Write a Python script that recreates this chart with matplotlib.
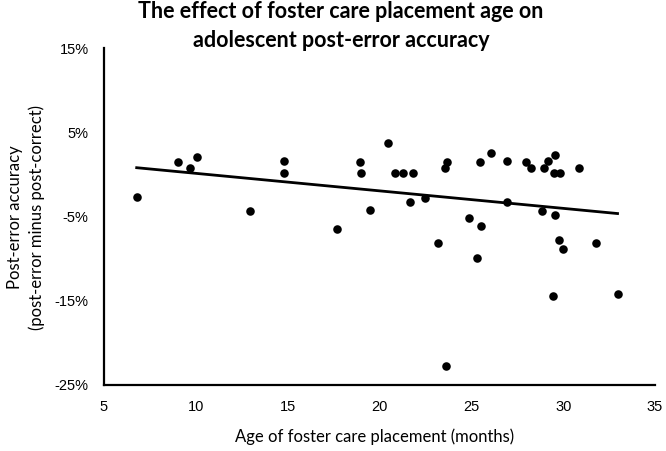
import numpy as np
import matplotlib
matplotlib.use("Agg")
import matplotlib.pyplot as plt
from matplotlib.ticker import FuncFormatter

# Data (age in months, post-error accuracy in %)
age_months = [6.78, 9.01, 9.68, 10.06, 12.93, 14.78, 14.78, 17.70, 18.95, 18.99,
              19.46, 20.44, 20.84, 21.28, 21.82, 21.64, 22.49, 23.16, 23.67, 23.55,
              24.85, 25.47, 25.54, 26.08, 26.92, 26.92, 27.99, 28.24, 28.86, 28.97,
              29.19, 29.53, 29.51, 29.84, 29.55, 30.87, 29.77, 29.97, 31.78, 25.33,
              29.46, 32.96, 23.60]
accuracy_pct = [-2.64, 1.44, 0.80, 2.10, -4.34, 1.60, 0.14, -6.47, 1.44, 0.14,
                -4.20, 3.70, 0.14, 0.14, 0.14, -3.27, -2.83, -8.17, 1.51, 0.80,
                -5.13, 1.44, -6.08, 2.50, 1.60, -3.27, 1.51, 0.80, -4.34, 0.80,
                1.63, 2.30, 0.14, 0.14, -4.85, 0.80, -7.78, -8.84, -8.17, -9.87,
                -14.42, -14.22, -22.72]

x_ticks = [5, 10, 15, 20, 25, 30, 35]
y_ticks = [-25, -15, -5, 5, 15]

title = "The effect of foster care placement age on\nadolescent post-error accuracy"
x_label = "Age of foster care placement (months)"
y_label = "Post-error accuracy\n(post-error minus post-correct)"

x = np.array(age_months)
y = np.array(accuracy_pct)

fig = plt.figure(figsize=(6.66, 4.51), dpi=100)
ax = fig.add_axes([104/666, 66/451, (655-104)/666, (385-48)/451])

ax.scatter(x, y, s=38, color="black", zorder=3, linewidths=0)

slope, intercept = np.polyfit(x, y, 1)
xl = np.array([x.min(), x.max()])
ax.plot(xl, slope*xl + intercept, color="black", lw=2.0, zorder=2)

ax.set_xlim(5, 35)
ax.set_ylim(-25, 15)
ax.set_xticks(x_ticks)
ax.set_yticks(y_ticks)
ax.yaxis.set_major_formatter(FuncFormatter(lambda v, p: f"{v:.0f}%"))

for s in ["top", "right"]:
    ax.spines[s].set_visible(False)
for s in ["left", "bottom"]:
    ax.spines[s].set_linewidth(1.6)
ax.tick_params(length=0, pad=11, labelsize=10.5)
for lab in ax.get_xticklabels() + ax.get_yticklabels():
    lab.set_family("Liberation Sans")

fig.text(0.512, 0.997, title, ha="center", va="top", family="Lato",
         fontweight="bold", fontsize=15.5, linespacing=1.45)
fig.text(375/666, 1 - 437/451, x_label, ha="center", va="center",
         family="Lato", fontsize=12)
fig.text(26/666, 1 - 217/451, y_label, ha="center", va="center",
         family="Lato", fontsize=12, rotation=90, linespacing=1.35)

fig.savefig("out.png", dpi=100)
